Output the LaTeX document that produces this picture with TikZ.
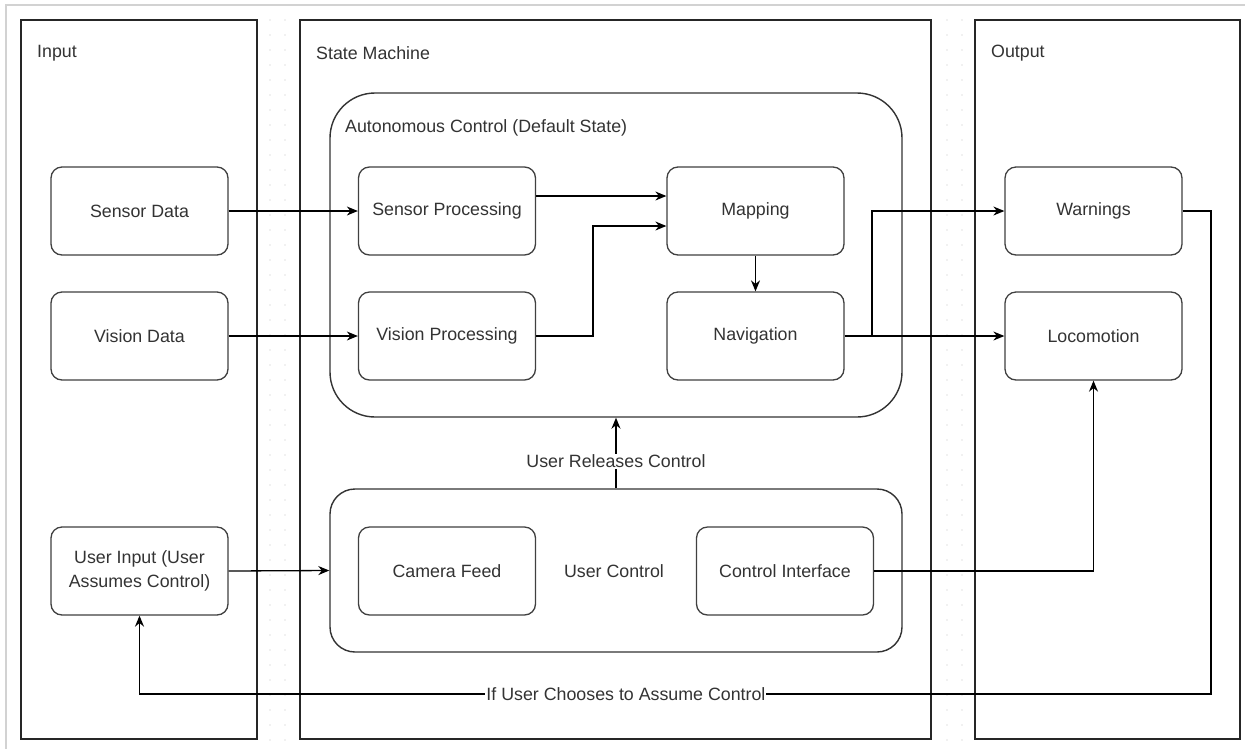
\documentclass[tikz,border=0pt]{standalone}
\usepackage{fontspec}
\setmainfont{Liberation Sans}
\usetikzlibrary{arrows.meta,calc}

\begin{document}
\begin{tikzpicture}[x=1pt,y=-1pt,
  every node/.style={font=\fontsize{17.8}{24}\selectfont, text=black!80},
  lane/.style={draw=black!85, line width=1.5pt, fill=white},
  container/.style={draw=black!80, line width=1.4pt, fill=white, minimum width=572pt},
  box/.style={draw=black!75, line width=1.3pt, rounded corners=11pt, fill=white,
    minimum width=177pt, minimum height=88pt, align=center, inner sep=2pt},
  flow/.style={draw=black, line width=1.3pt, -{Stealth[length=11pt,width=9pt]}},
  link/.style={draw=black, line width=1.3pt},
  lbl/.style={fill=white, inner sep=1pt},
  title/.style={anchor=west, inner sep=0pt},
]
\useasboundingbox (0,0) rectangle (1245,748);

% page frame and grid dots
\draw[gray!35, line width=1.5pt] (6,770) -- (6,5) -- (1260,5);
\foreach \x in {270,285,947,962}
  \foreach \y in {20,35,...,740}
    \fill[gray!22] (\x,\y) circle (0.9);

% swimlanes
\draw[lane] (21,20) rectangle (257,739);
\draw[lane] (300,20) rectangle (931,739);
\draw[lane] (975,20) rectangle (1240,739);
\node[title] at (37,53) {Input};
\node[title] at (316,53) {State Machine};
\node[title] at (991,53) {Output};

% state containers
\node[container, minimum height=324pt, rounded corners=45pt] (auto) at (616,255) {};
\node[title] at (345,128) {Autonomous Control (Default State)};
\node[container, minimum height=163pt, rounded corners=25pt] (userctl) at (616,570.5) {};
\node at (614,571) {User Control};

% input boxes
\node[box] (sensordata) at (139.5,211) {Sensor Data};
\node[box] (visiondata) at (139.5,336) {Vision Data};
\node[box] (userinput) at (139.5,571) {User Input (User\\Assumes Control)};

% autonomous control boxes
\node[box] (sensorproc) at (447,211) {Sensor Processing};
\node[box] (visionproc) at (447,336) {Vision Processing};
\node[box] (mapping) at (755.5,211) {Mapping};
\node[box] (navigation) at (755.5,336) {Navigation};

% user control boxes
\node[box] (camerafeed) at (447,571) {Camera Feed};
\node[box] (controlif) at (785,571) {Control Interface};

% output boxes
\node[box] (warnings) at (1093.5,211) {Warnings};
\node[box] (locomotion) at (1093.5,336) {Locomotion};

% connectors
\draw[flow] (sensordata.east) -- (sensorproc.west);
\draw[flow] (visiondata.east) -- (visionproc.west);
\draw[flow] (sensorproc.east |- 0,196) -- (mapping.west |- 0,196);
\draw[flow] (visionproc.east) -| (593,226) -- (mapping.west |- 0,226);
\draw[flow] (mapping.south) -- (navigation.north);
\draw[flow] (navigation.east) -- (locomotion.west);
\coordinate (branch) at (872,336);
\draw[flow] (branch) |- (warnings.west);
\draw[flow] (userinput.east) -- (userctl.west);
\draw[flow] (controlif.east) -| (locomotion.south);
\draw[flow] (userctl.north) -- node[lbl, pos=0.38] {User Releases Control} (auto.south);
\coordinate (loopcorner) at (1211,694);
\draw[flow] (warnings.east) -| (loopcorner) -- node[lbl, pos=0.546] {If User Chooses to Assume Control} (userinput.south |- loopcorner) -- (userinput.south);
\end{tikzpicture}
\end{document}
